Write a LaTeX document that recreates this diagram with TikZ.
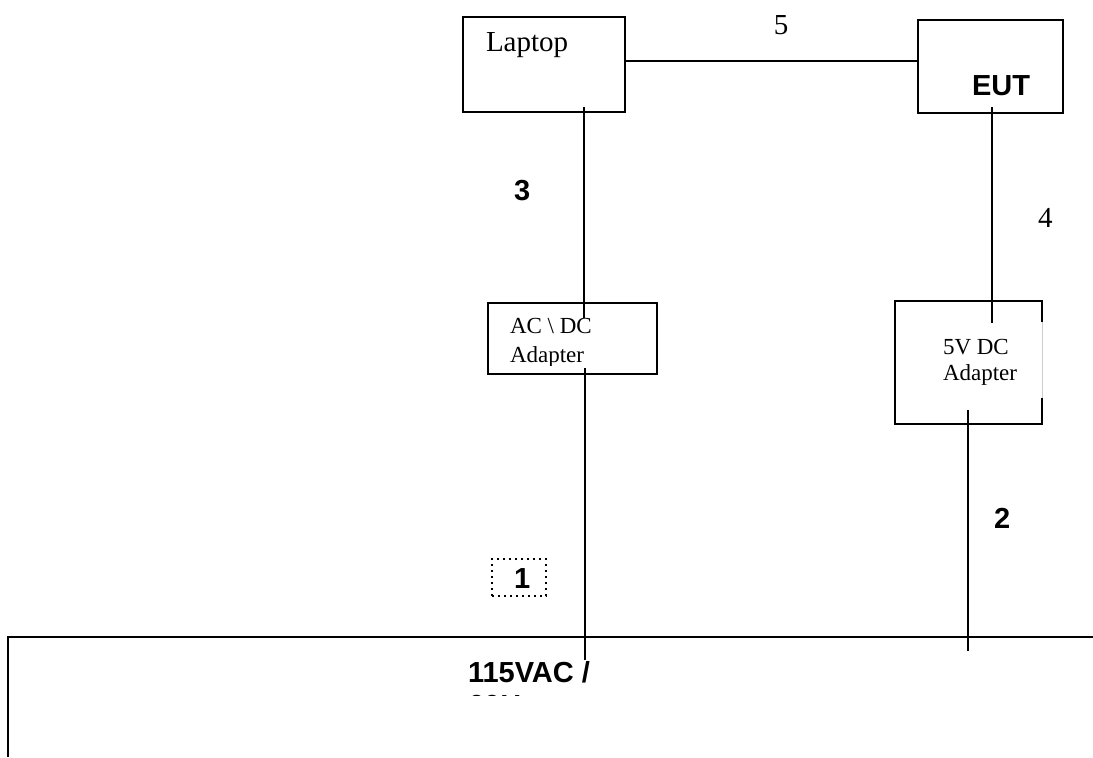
\documentclass[tikz,border=0pt]{standalone}
\usepackage{fontspec}
\setmainfont{Liberation Serif}
\setsansfont{Liberation Sans}
\usetikzlibrary{positioning}
\begin{document}
\begin{tikzpicture}[x=.5pt, y=-.5pt, line width=1pt, line join=miter,
  unit/.style={draw, inner sep=0pt},
  txt/.style={inner sep=0pt, anchor=base west, font=\fontsize{14.5}{17}\selectfont},
  num/.style={inner sep=0pt, anchor=base west, font=\fontsize{14.5}{17}\selectfont\sffamily\bfseries},
  small/.style={inner sep=0pt, anchor=base west, font=\fontsize{11.5}{13}\selectfont}]
\useasboundingbox (0,0) rectangle (1093,757);
% boxes
\node[unit, minimum width=81pt, minimum height=47.5pt] (laptop) at (544,64.5) {};
\node[unit, minimum width=72.5pt, minimum height=46.5pt] (eut) at (990.5,66.5) {};
\node[unit, minimum width=84.5pt, minimum height=35.5pt] (acdc) at (572.5,338.5) {};
\node[inner sep=0pt, minimum width=72.5pt, minimum height=60.5pt] (dcad) at (968.5,362.5) {};
\draw ([yshift=-10.5pt]dcad.north east) -- (dcad.north east) -- (dcad.north west)
  -- (dcad.south west) -- (dcad.south east) -- ([yshift=13pt]dcad.south east);
\draw[gray!40, line width=.4pt] ([yshift=-10.5pt]dcad.north east) -- ([yshift=13pt]dcad.south east);
\node[draw, dotted, inner sep=0pt, minimum width=27pt, minimum height=18.5pt] (one) at (519,577.5) {};
% cable ends
\path
(584,107) coordinate (L3a)
(584,318) coordinate (L3b)
(992,107) coordinate (L4a)
(992,323) coordinate (L4b)
(585,368) coordinate (L1a)
(585,660) coordinate (L1b)
(968,410) coordinate (L2a)
(968,651) coordinate (L2b)
(8,757) coordinate (M0)
(8,637) coordinate (M1)
(1093,637) coordinate (M2);
\draw (laptop.east |- 0,61) -- (eut.west |- 0,61);
\draw (L3a) -- (L3b);
\draw (L4a) -- (L4b);
\draw (L1a) -- (L1b);
\draw (L2a) -- (L2b);
\draw (M0) -- (M1) -- (M2);
% labels
\node[txt] (tlaptop) at (485,51) {Laptop};
\node[txt, anchor=base] (t5) at (781,34) {5};
\node[num] (teut) at (971,95) {EUT};
\node[num] (t3) at (513,200) {3};
\node[txt] (t4) at (1037,227) {4};
\node[num] (t2) at (993,528) {2};
\node[num] (t1) at (513,588) {1};
\begin{scope}
\clip (488,303) rectangle (657,365);
\node[small] (tac1) at (509,333) {AC \textbackslash\ DC};
\node[small] (tac2) at (509,362) {Adapter};
\end{scope}
\node[small] (tdc1) at (942,354) {5V DC};
\node[small] (tdc2) at (942,380) {Adapter};
\node[num] (tmain1) at (467,682) {115VAC /};
\begin{scope}
\clip (440,640) rectangle (640,695);
\node[num] (tmain2) at (467,715) {60Hz};
\end{scope}
\end{tikzpicture}
\end{document}
